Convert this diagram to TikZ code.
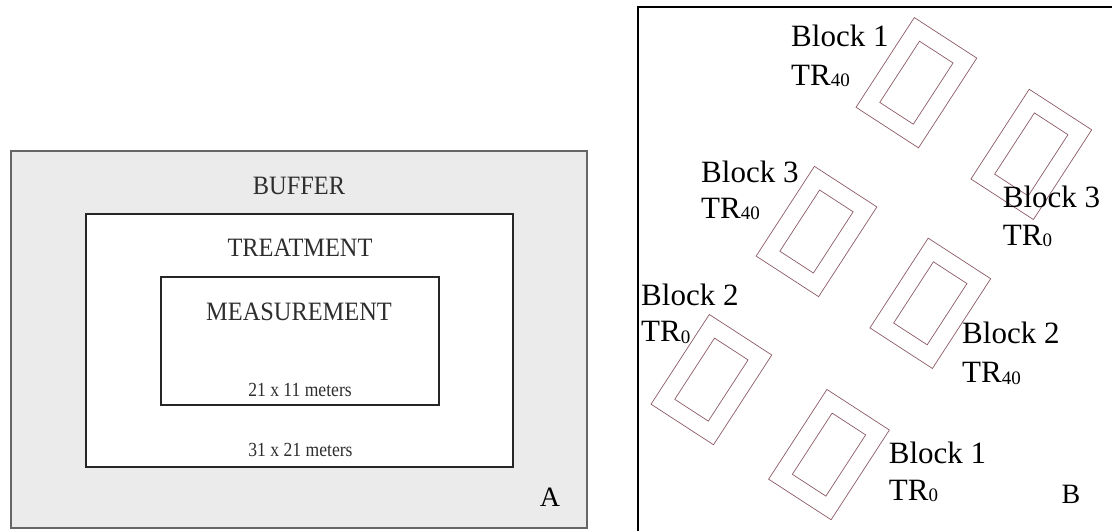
\documentclass[tikz,border=0pt]{standalone}
\usepackage{fontspec}
\setmainfont{Liberation Serif}
\definecolor{plotline}{RGB}{140,90,100}
\newcommand{\lowsub}[1]{\raisebox{-1.5pt}{\fontsize{19}{19}\selectfont #1}}

\begin{document}
\begin{tikzpicture}[x=1pt,y=-1pt,
        area/.style={draw, rectangle, inner sep=0pt},
        outer plot/.style={draw=plotline, line width=0.7pt, rectangle, inner sep=0pt, rotate=-33, minimum width=74.5pt, minimum height=107pt},
        inner plot/.style={draw=plotline, line width=0.7pt, rectangle, inner sep=0pt, rotate=-33, minimum width=40pt, minimum height=73pt},
        big text/.style={font=\fontsize{26.5}{26.5}\selectfont, text=black!82, anchor=base, inner sep=0pt, xscale=0.92},
        small text/.style={font=\fontsize{20}{20}\selectfont, text=black!82, anchor=base, inner sep=0pt, xscale=0.88},
        block text/.style={font=\fontsize{31}{31}\selectfont, anchor=base west, inner sep=0pt}]
    \useasboundingbox (0,0) rectangle (1112,531);
    % panel A: plot layout
    \node [area, fill=black!8, draw=black!60, line width=1.2pt, minimum width=576pt, minimum height=377pt] (buffer) at (299,339.5) {};
    \node [area, fill=white, draw=black!85, line width=1.8pt, minimum width=427pt, minimum height=253pt] (treatment) at (299.5,340.5) {};
    \node [area, fill=white, draw=black!85, line width=1.8pt, minimum width=278pt, minimum height=128pt] (measurement) at (300,341) {};
    \node [big text] (buffer label) at (299,194) {BUFFER};
    \node [big text] (treatment label) at (300,256) {TREATMENT};
    \node [big text] (measurement label) at (299,320.7) {MEASUREMENT};
    \node [small text] (inner size) at (300,396) {21 x 11 meters};
    \node [small text] (outer size) at (300.5,456.7) {31 x 21 meters};
    \node [font=\fontsize{28}{28}\selectfont, anchor=base, inner sep=0pt] (panel a) at (550,506) {A};

    % panel B: field map
    \draw [line width=2.5pt] (1112,7) -- (638,7) -- (638,531);
    \node [outer plot] (o1) at (916.4,82.7) {};
    \node [inner plot] (i1) at (916.4,82.7) {};
    \node [outer plot] (o2) at (1031.3,154.4) {};
    \node [inner plot] (i2) at (1031.3,154.4) {};
    \node [outer plot] (o3) at (816.5,231.5) {};
    \node [inner plot] (i3) at (816.5,231.5) {};
    \node [outer plot] (o4) at (930.3,303.3) {};
    \node [inner plot] (i4) at (930.3,303.3) {};
    \node [outer plot] (o5) at (711.4,379.6) {};
    \node [inner plot] (i5) at (711.4,379.6) {};
    \node [outer plot] (o6) at (829,454.6) {};
    \node [inner plot] (i6) at (829,454.6) {};
    \node [block text] (b1) at (791,46.7) {Block 1};
    \node [block text] (t1) at (791,85) {TR\lowsub{40}};
    \node [block text] (b2) at (1002.7,207.3) {Block 3};
    \node [block text] (t2) at (1002.7,245) {TR\lowsub{0}};
    \node [block text] (b3) at (701,182.7) {Block 3};
    \node [block text] (t3) at (701,218.3) {TR\lowsub{40}};
    \node [block text] (b4) at (962,343.3) {Block 2};
    \node [block text] (t4) at (962,382.7) {TR\lowsub{40}};
    \node [block text] (b5) at (641,305) {Block 2};
    \node [block text] (t5) at (641,341.7) {TR\lowsub{0}};
    \node [block text] (b6) at (888.7,463.3) {Block 1};
    \node [block text] (t6) at (888.7,500) {TR\lowsub{0}};
    \node [font=\fontsize{28}{28}\selectfont, anchor=base, inner sep=0pt] (panel b) at (1071,503) {B};
\end{tikzpicture}
\end{document}
